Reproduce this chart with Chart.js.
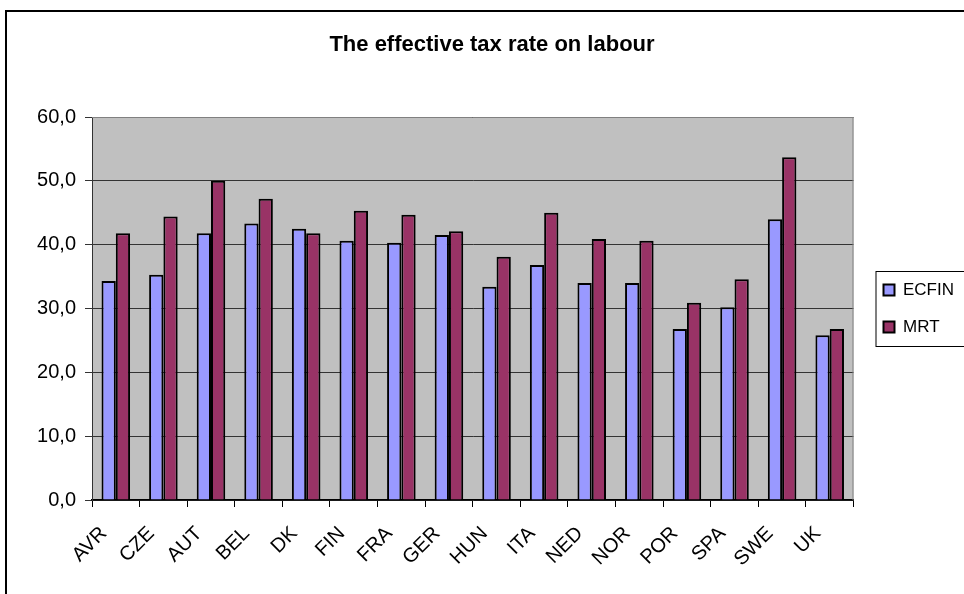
<!DOCTYPE html>
<html lang="en">
<head>
    <meta charset="UTF-8">
    <title>The effective tax rate on labour</title>
    <script src="https://cdn.jsdelivr.net/npm/chart.js"></script>
    <style>
        html, body {
            margin: 0;
            padding: 0;
            background-color: #fff;
            overflow: hidden;
        }

        .frame {
            position: absolute;
            left: 5px;
            top: 10px;
            width: 1000px;
            height: 700px;
            border: 2px solid #000;
        }

        .chart-container {
            position: absolute;
            left: 0;
            top: 0;
            width: 964px;
            height: 594px;
        }
    </style>
</head>
<body>
    <div class="frame"></div>
    <div class="chart-container">
        <canvas id="taxChart"></canvas>
    </div>

    <script>
        // Data
        const categories = ['AVR', 'CZE', 'AUT', 'BEL', 'DK', 'FIN', 'FRA', 'GER',
                            'HUN', 'ITA', 'NED', 'NOR', 'POR', 'SPA', 'SWE', 'UK'];
        const ecfinValues = [34.3, 35.3, 41.8, 43.3, 42.5, 40.6, 40.3, 41.5,
                             33.4, 36.8, 34.0, 34.0, 26.8, 30.2, 44.0, 25.8];
        const mrtValues = [41.8, 44.4, 50.0, 47.2, 41.8, 45.3, 44.7, 42.1,
                           38.1, 45.0, 40.9, 40.6, 30.9, 34.6, 53.7, 26.8];
        const yMin = 0;
        const yMax = 60;
        const yStep = 10;

        const fontFamily = "'Liberation Sans', Arial, sans-serif";

        // Grey plot area, frame and Excel-like legend box
        const excelLook = {
            id: 'excelLook',
            afterLayout(chart) {
                const lg = chart.legend;
                lg.left += 10;
                lg.right = chart.width;
            },
            beforeDraw(chart) {
                const { ctx, chartArea: a } = chart;
                ctx.save();
                ctx.fillStyle = '#c0c0c0';
                ctx.fillRect(a.left, a.top, a.right - a.left, a.bottom - a.top);
                ctx.restore();
            },
            afterDraw(chart) {
                const { ctx, chartArea: a } = chart;
                ctx.save();
                ctx.strokeStyle = '#808080';
                ctx.lineWidth = 1;
                ctx.beginPath();
                ctx.moveTo(a.left, a.top + 0.5);
                ctx.lineTo(a.right - 0.5, a.top + 0.5);
                ctx.lineTo(a.right - 0.5, a.bottom);
                ctx.stroke();

                const lg = chart.legend;
                const boxes = lg.legendHitBoxes;
                if (boxes && boxes.length) {
                    const first = boxes[0];
                    const last = boxes[boxes.length - 1];
                    ctx.strokeStyle = '#000';
                    ctx.lineWidth = 1;
                    const x = lg.left + 12.5;
                    const top = Math.round(first.top) - 10.5;
                    const bottom = Math.round(last.top + last.height) + 10.5;
                    ctx.strokeRect(x, top, chart.width + 20 - x, bottom - top);
                }
                ctx.restore();
            }
        };

        const ctx = document.getElementById('taxChart').getContext('2d');
        const taxChart = new Chart(ctx, {
            type: 'bar',
            data: {
                labels: categories,
                datasets: [{
                    label: 'ECFIN',
                    data: ecfinValues,
                    backgroundColor: '#9999ff',
                    borderColor: '#000',
                    borderWidth: 2
                }, {
                    label: 'MRT',
                    data: mrtValues,
                    backgroundColor: '#993366',
                    borderColor: '#000',
                    borderWidth: 2
                }]
            },
            options: {
                responsive: true,
                maintainAspectRatio: false,
                animation: false,
                layout: {
                    padding: { left: 30, right: 10, top: 0, bottom: 0 }
                },
                datasets: {
                    bar: { categoryPercentage: 0.6, barPercentage: 1.0 }
                },
                plugins: {
                    title: {
                        display: true,
                        text: 'The effective tax rate on labour',
                        color: '#000',
                        font: { family: fontFamily, size: 22, weight: 'bold' },
                        padding: { top: 32, bottom: 58.6 }
                    },
                    legend: {
                        position: 'right',
                        fullSize: false,
                        labels: {
                            color: '#000',
                            font: { family: fontFamily, size: 17 },
                            boxWidth: 11,
                            boxHeight: 11,
                            padding: 20
                        }
                    },
                    tooltip: { enabled: false }
                },
                scales: {
                    x: {
                        afterFit(scale) { scale.height = 94; },
                        grid: {
                            offset: true,
                            drawOnChartArea: false,
                            drawTicks: true,
                            tickLength: 7,
                            color: '#000'
                        },
                        border: { color: '#000', width: 1.5 },
                        ticks: {
                            autoSkip: false,
                            maxRotation: 45,
                            minRotation: 45,
                            labelOffset: -12,
                            padding: 15,
                            color: '#000',
                            font: { family: fontFamily, size: 20 }
                        }
                    },
                    y: {
                        min: yMin,
                        max: yMax,
                        afterFit(scale) { scale.width = 62; },
                        grid: {
                            color: '#333',
                            lineWidth: 1,
                            tickLength: 7
                        },
                        border: { color: '#333', width: 1 },
                        ticks: {
                            stepSize: yStep,
                            padding: 9,
                            color: '#000',
                            font: { family: fontFamily, size: 20 },
                            callback: (value) => Number(value).toFixed(1).replace('.', ',')
                        }
                    }
                }
            },
            plugins: [excelLook]
        });
    </script>
</body>
</html>
